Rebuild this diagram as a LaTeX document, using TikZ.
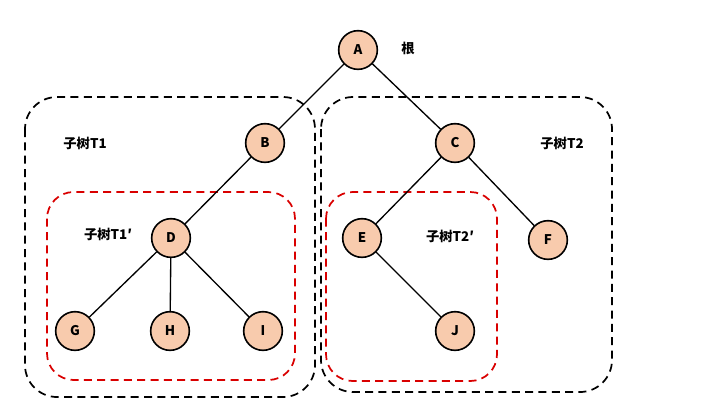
\documentclass[tikz,border=0pt]{standalone}
\usepackage{fontspec}
\setmainfont{Noto Sans CJK SC}
\begin{document}
\begin{tikzpicture}[x=0.75pt,y=-0.75pt]
        \tikzstyle{vertex}=[draw, circle, fill={rgb,255:red,248;green,203;blue,173},
            line width=1.2pt, minimum size=29pt, inner sep=0pt, font=\bfseries]
        \tikzstyle{outer}=[draw, line width=1.3pt, rounded corners=24pt,
            dash pattern=on 6pt off 4pt]
        \tikzstyle{inner}=[outer, red!85!black, rounded corners=20pt]
        \tikzstyle{tag}=[font=\bfseries]
        \useasboundingbox (0, 0) rectangle (720, 412);

	\draw[outer] (25, 97) rectangle (315, 397);
	\draw[outer] (321, 97) rectangle (612, 392);
	\draw[inner] (47, 192) rectangle (295, 380);
	\draw[inner] (326, 192) rectangle (497, 381);

        \node[vertex] (A) at (358, 50) {A};
        \node[vertex] (B) at (265, 143) {B};
        \node[vertex] (C) at (455, 143) {C};
        \node[vertex] (D) at (171, 238) {D};
        \node[vertex] (E) at (362, 238) {E};
        \node[vertex] (F) at (548, 240) {F};
        \node[vertex] (G) at (75, 331) {G};
        \node[vertex] (H) at (170, 331) {H};
        \node[vertex] (I) at (263, 331) {I};
        \node[vertex] (J) at (455, 331) {J};

        \node[tag] (root) at (408, 48) {根};
        \node[tag] (t1) at (85, 143) {子树T1};
        \node[tag] (t2) at (562, 143) {子树T2};
        \node[tag] (t1p) at (108, 234) {子树T1′};
        \node[tag] (t2p) at (450, 236) {子树T2′};

        \begin{scope}[line width=1pt]
        \draw (A) to (B);
	\draw (A) to (C);
	\draw (B) to (D);
	\draw (C) to (E);
	\draw (C) to (F);
	\draw (D) to (G);
	\draw (D) to (H);
	\draw (D) to (I);
	\draw (E) to (J);
        \end{scope}
    \end{tikzpicture}
\end{document}
